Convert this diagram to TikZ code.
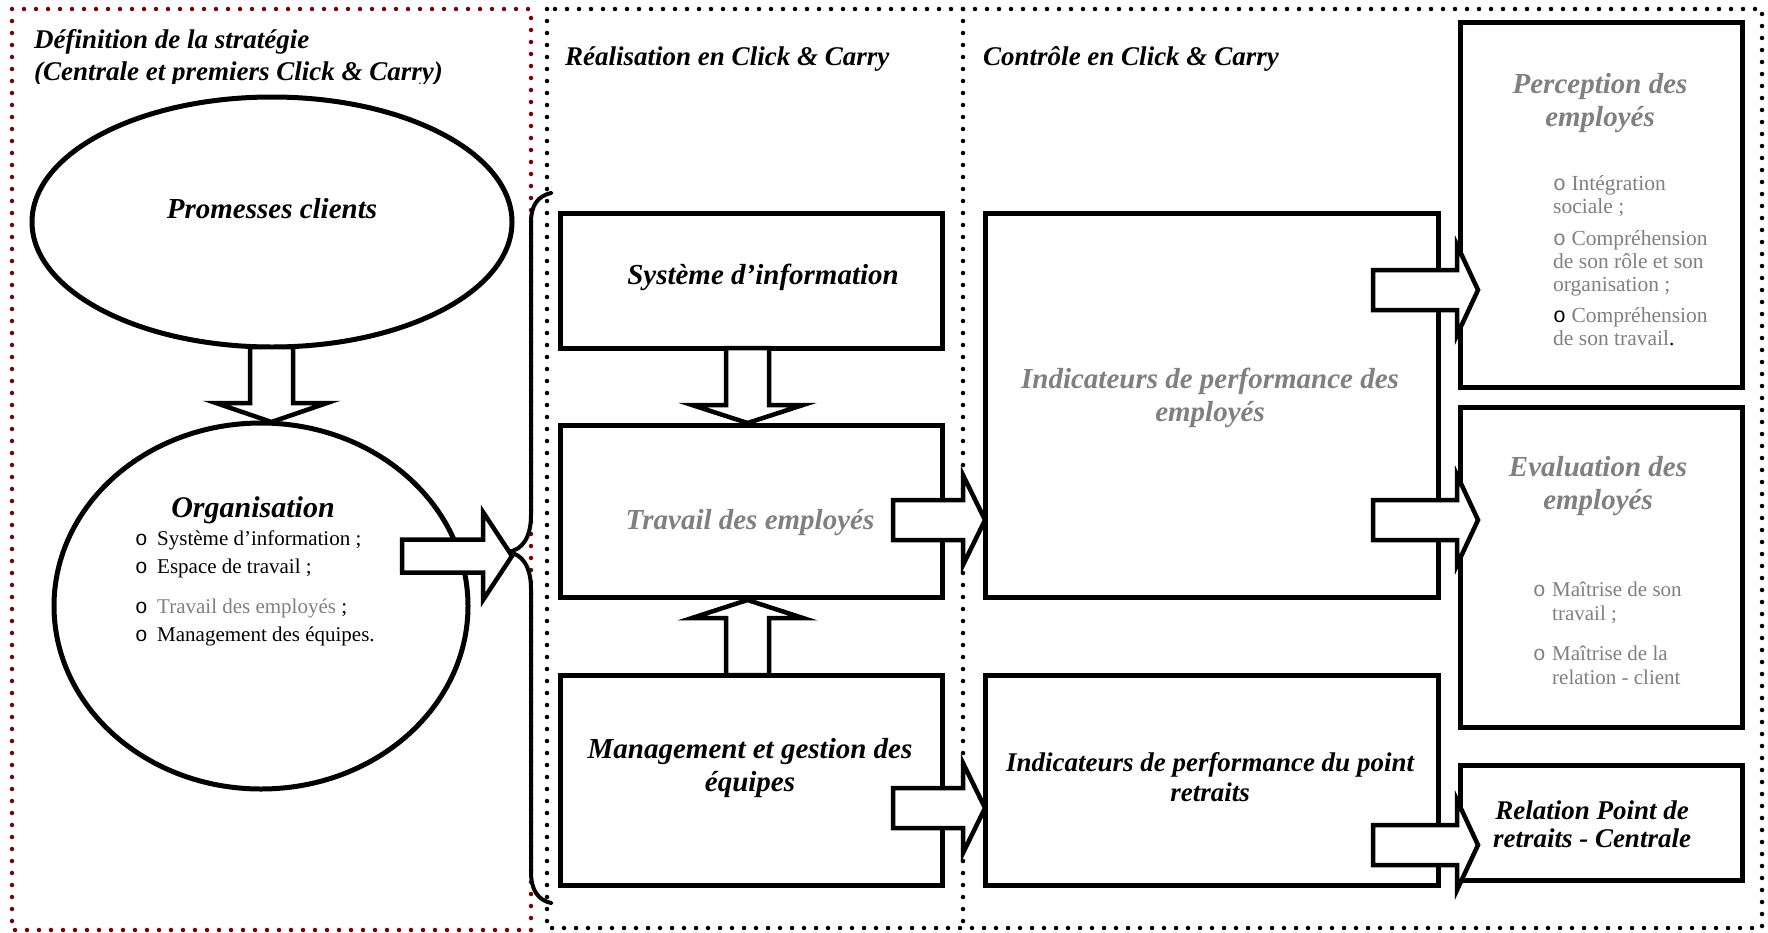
\documentclass[tikz,border=0pt]{standalone}
\usepackage{fontspec}
\setmainfont{Liberation Serif}
\setmonofont{Liberation Mono}
\usetikzlibrary{shapes.geometric}
\definecolor{txtgray}{RGB}{128,128,128}
\definecolor{framered}{RGB}{128,0,0}
\tikzset{
  dotline/.style={line width=4.5pt, line cap=round, dash pattern=on 0pt off 12pt},
  boxnode/.style={draw, line width=5pt, inner sep=0pt, outer sep=0pt, rectangle},
  ellnode/.style={draw, line width=5pt, inner sep=0pt, outer sep=0pt, ellipse},
  barrow/.style={draw, fill=white, line width=4.5pt, line join=miter},
  bracestyle/.style={line width=4pt, line cap=round},
  headtxt/.style={font=\fontsize{29}{33}\selectfont\bfseries\itshape, inner sep=0pt, align=center, anchor=base},
  headsm/.style={font=\fontsize{27}{30}\selectfont\bfseries\itshape, inner sep=0pt, align=center, anchor=base},
  coltitle/.style={font=\fontsize{27}{32}\selectfont\bfseries\itshape, inner sep=0pt, align=left, anchor=base west},
  bullet/.style={font=\fontsize{21}{28}\selectfont, inner sep=0pt, align=left, anchor=base west},
}
\newcommand{\RArrow}[6]{% x0, xbase, xtip, cy, shaft half width, head half width
  \draw[barrow] ({#1},{#4-#5}) -- ({#2},{#4-#5}) -- ({#2},{#4-#6}) -- ({#3},{#4})
    -- ({#2},{#4+#6}) -- ({#2},{#4+#5}) -- ({#1},{#4+#5}) -- cycle;}
\newcommand{\VArrow}[4]{% cx, y0, ybase, ytip
  \draw[barrow] ({#1-21.5},{#2}) -- ({#1-21.5},{#3}) -- ({#1-55.5},{#3}) -- ({#1},{#4})
    -- ({#1+55.5},{#3}) -- ({#1+21.5},{#3}) -- ({#1+21.5},{#2}) -- cycle;}
\newcommand{\bo}{\texttt{o}}
\begin{document}
\begin{tikzpicture}[x=1pt,y=-1pt]
\useasboundingbox (0,0) rectangle (1768,932);
\fill[white] (0,0) rectangle (1768,932);

% dotted frames
\draw[dotline, framered] (12,9) rectangle (531,930);
\draw[dotline] (547,9) rectangle (1762,928);
\draw[dotline] (963,9) -- (963,928);

% column titles (anchor = baseline of the last line)
\begin{scope}
  \clip (0,0) rectangle (530,83);
  \node[coltitle] (tdef) at (34,80) {Définition de la stratégie\\(Centrale et premiers Click \& Carry)};
\end{scope}
\node[coltitle] (treal) at (565,65) {Réalisation en Click \& Carry};
\node[coltitle] (tctrl) at (983,65) {Contrôle en Click \& Carry};

% ellipses
\node[ellnode, minimum width=480pt, minimum height=250pt] (prom) at (272,222) {};
\node[ellnode, minimum width=414pt, minimum height=366pt] (orga) at (261,606) {};

% boxes
\node[boxnode, minimum width=382pt, minimum height=135pt] (sys) at (751,280.5) {};
\node[boxnode, minimum width=382pt, minimum height=172pt] (trav) at (751,511) {};
\node[boxnode, minimum width=382pt, minimum height=210pt] (mgmt) at (751,780) {};
\node[boxnode, minimum width=453pt, minimum height=384pt] (ie) at (1211.5,405) {};
\node[boxnode, minimum width=453pt, minimum height=210pt] (ip) at (1211.5,780) {};
\node[boxnode, minimum width=282pt, minimum height=365pt] (perc) at (1601,204.5) {};
\node[boxnode, minimum width=282pt, minimum height=320pt] (eval) at (1601,567) {};
\node[boxnode, minimum width=282pt, minimum height=115pt] (rel) at (1601,822.5) {};

% brace
\coordinate (bt) at (551,193);
\coordinate (bm) at (508,552);
\coordinate (bb) at (551,903);
\draw[bracestyle] (bt) .. controls (538,196) and (531,205) .. (531,222) -- (531,515)
  .. controls (531,538) and (522,550) .. (bm)
  .. controls (522,554) and (531,566) .. (531,589) -- (531,872)
  .. controls (531,890) and (538,900) .. (bb);

% block arrows
\VArrow{271.5}{347}{403}{422}
\VArrow{747.5}{348}{405}{423}
\VArrow{747.5}{675}{618}{600}
\RArrow{402}{483}{512}{556}{16.5}{44}
\RArrow{893}{963}{985}{520}{20}{45}
\RArrow{893}{963}{985}{808}{20}{45}
\RArrow{1373}{1457}{1478}{290}{20}{45}
\RArrow{1373}{1457}{1478}{520}{20}{45}
\RArrow{1373}{1457}{1478}{845}{20}{45}

% texts
\node[headtxt] (tprom) at (272,218) {Promesses clients};
\node[headtxt, font=\fontsize{30}{33}\selectfont\bfseries\itshape] (torga) at (253,517) {Organisation};
\node[bullet] (lorga) at (135,641) {%
  \makebox[22pt][l]{\bo}Système d’information ;\\
  \makebox[22pt][l]{\bo}Espace de travail ;\\[12pt]
  \makebox[22pt][l]{\bo}\textcolor{txtgray}{Travail des employés} ;\\
  \makebox[22pt][l]{\bo}Management des équipes.};

\node[headtxt] (tsys) at (763,284) {Système d’information};
\node[headtxt, text=txtgray] (ttrav) at (750,529) {Travail des employés};
\node[headtxt] (tmgmt) at (750,791) {Management et gestion des\\équipes};
\node[headtxt, text=txtgray] (tie) at (1210,421) {Indicateurs de performance des\\employés};
\node[headsm] (tip) at (1210,801) {Indicateurs de performance du point\\retraits};

\node[headtxt, text=txtgray] (tperc) at (1600,126) {Perception des\\employés};
\node[bullet, text=txtgray, font=\fontsize{21.5}{23}\selectfont] (lperc) at (1553,345) {%
  \bo{} Intégration\\
  sociale ;\\[9pt]
  \bo{} Compréhension\\
  de son rôle et son\\
  organisation ;\\[8pt]
  \textcolor{black}{\bo}{} Compréhension\\
  de son travail\textcolor{black}{.}};

\node[headtxt, text=txtgray] (teval) at (1598,509) {Evaluation des\\employés};
\node[bullet, text=txtgray, font=\fontsize{21}{24}\selectfont] (leval) at (1533,684) {%
  \makebox[19pt][l]{\bo}Maîtrise de son\\
  \hspace*{19pt}travail ;\\[16pt]
  \makebox[19pt][l]{\bo}Maîtrise de la\\
  \hspace*{19pt}relation - client};

\node[headsm, font=\fontsize{27}{28}\selectfont\bfseries\itshape] (trel) at (1592,847) {Relation Point de\\retraits - Centrale};
\end{tikzpicture}
\end{document}
